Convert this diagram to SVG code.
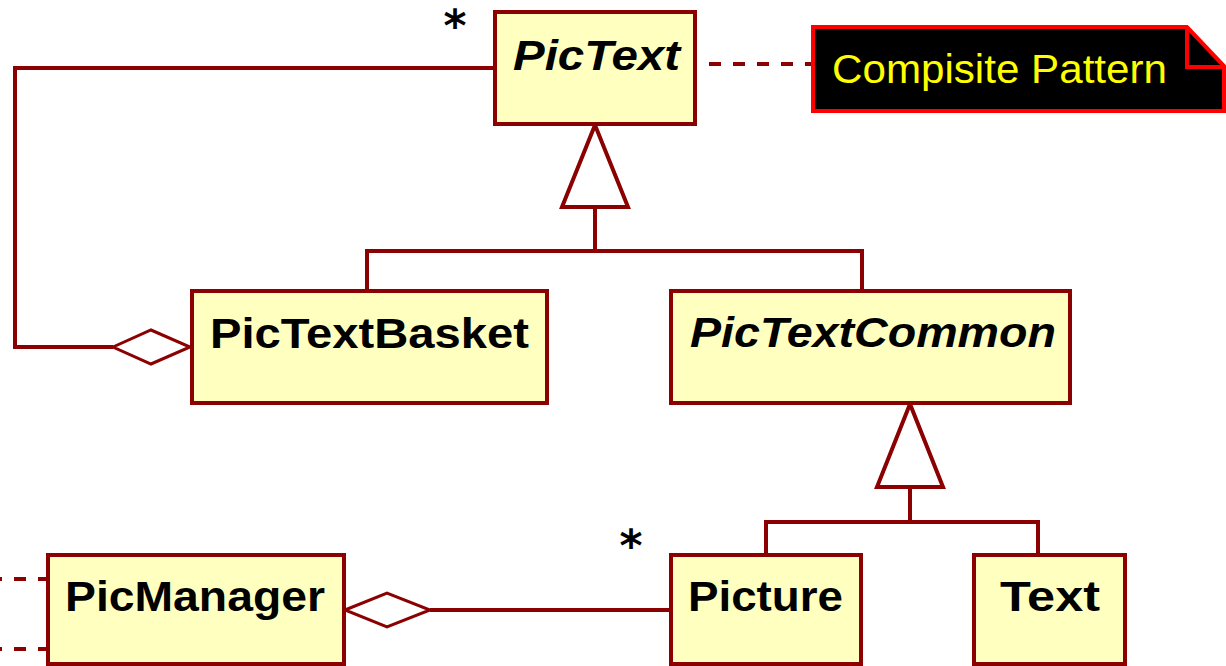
<svg xmlns="http://www.w3.org/2000/svg" width="1226" height="666" viewBox="0 0 1226 666">
  <style>
    .cls { fill: #FFFFC0; stroke: #8B0000; stroke-width: 4; }
    .lbl { font-family: "Liberation Sans", Arial, sans-serif; font-weight: bold; font-size: 42px; fill: #000; }
    .abs { font-style: italic; }
    .ln { fill: none; stroke: #8B0000; stroke-width: 4; }
    .dash { fill: none; stroke: #8B0000; stroke-width: 4; stroke-dasharray: 12 12; }
    .agg { fill: #FFFFFF; stroke: #8B0000; stroke-width: 3; }
    .gen { fill: #FFFFFF; stroke: #8B0000; stroke-width: 4; }
    .mult { font-family: "DejaVu Sans", sans-serif; font-weight: bold; font-size: 44px; fill: #000; }
  </style>
  <rect width="1226" height="666" fill="#FFFFFF"/>

  <!-- connectors -->
  <g id="connectors">
    <!-- PicTextBasket aggregates PicText -->
    <polyline class="ln" points="493,68 15,68 15,347 113,347"/>
    <polygon class="agg" points="113,347 151,330 190,347 151,364"/>
    <!-- note anchor -->
    <line class="dash" x1="709" y1="64" x2="812" y2="64"/>
    <!-- inheritance from PicText -->
    <polyline class="ln" points="595,207 595,251"/>
    <polyline class="ln" points="367,290 367,251 862,251 862,290"/>
    <polygon class="gen" points="595,125 562,207 628,207"/>
    <!-- inheritance from PicTextCommon -->
    <polyline class="ln" points="910,487 910,522"/>
    <polyline class="ln" points="766,554 766,522 1038,522 1038,554"/>
    <polygon class="gen" points="910,404 877,487 943,487"/>
    <!-- PicManager aggregates Picture -->
    <line class="ln" x1="430" y1="610" x2="670" y2="610"/>
    <polygon class="agg" points="345,610 387,593 430,610 387,627"/>
    <!-- incoming dependencies on PicManager -->
    <line class="dash" x1="-10" y1="579" x2="46" y2="579"/>
    <line class="dash" x1="-10" y1="649" x2="46" y2="649"/>
    <!-- multiplicities -->
    <text class="mult" x="455" y="41" text-anchor="middle">*</text>
    <text class="mult" x="631" y="561" text-anchor="middle">*</text>
  </g>

  <g id="PicText">
    <rect class="cls" x="495" y="12" width="200" height="112"/>
    <text class="lbl abs" x="513" y="70" textLength="167" lengthAdjust="spacingAndGlyphs">PicText</text>
  </g>

  <g id="note">
    <path d="M813,27 H1187 L1224,66 V111 H813 Z" fill="#000000" stroke="#FF0000" stroke-width="4"/>
    <path d="M1187,27 V67 H1224" fill="none" stroke="#FF0000" stroke-width="4"/>
    <text x="832" y="83" font-family="Liberation Sans, Arial, sans-serif" font-size="40" fill="#FFFF00" textLength="335" lengthAdjust="spacingAndGlyphs">Compisite Pattern</text>
  </g>

  <g id="PicTextBasket">
    <rect class="cls" x="192" y="291" width="355" height="112"/>
    <text class="lbl" x="210" y="348" textLength="319" lengthAdjust="spacingAndGlyphs">PicTextBasket</text>
  </g>

  <g id="PicTextCommon">
    <rect class="cls" x="671" y="291" width="399" height="112"/>
    <text class="lbl abs" x="690" y="347" textLength="366" lengthAdjust="spacingAndGlyphs">PicTextCommon</text>
  </g>

  <g id="PicManager">
    <rect class="cls" x="48" y="555" width="296" height="109"/>
    <text class="lbl" x="65" y="611" textLength="260" lengthAdjust="spacingAndGlyphs">PicManager</text>
  </g>

  <g id="Picture">
    <rect class="cls" x="671" y="555" width="190" height="109"/>
    <text class="lbl" x="688" y="611" textLength="155" lengthAdjust="spacingAndGlyphs">Picture</text>
  </g>

  <g id="Text">
    <rect class="cls" x="974" y="555" width="151" height="109"/>
    <text class="lbl" x="1000" y="611" textLength="100" lengthAdjust="spacingAndGlyphs">Text</text>
  </g>
</svg>
